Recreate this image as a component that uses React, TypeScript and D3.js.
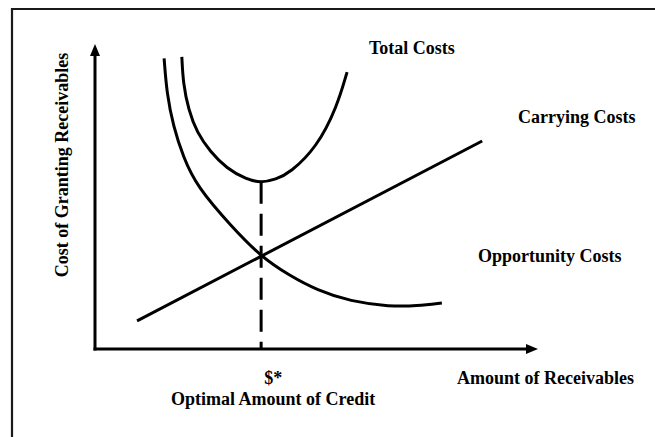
import React, { useEffect, useRef } from 'react';
import * as d3 from 'd3';

// --- Data (units 0..100 on both axes) ---
const totalCostX = [19.6, 19.9, 21.1, 23.0, 26.0, 29.7, 34.2, 37.5, 40.8, 44.0, 50.1, 54.6, 56.9];
const totalCostY = [95.8, 87.1, 78.4, 71.0, 64.7, 59.2, 55.6, 54.5, 55.6, 57.7, 66.2, 79.3, 90.8];

const opportunityX = [15.6, 16.2, 17.7, 19.9, 23.0, 30.9, 37.5, 44.0, 50.1, 57.6, 66.6, 72.7, 78.3];
const opportunityY = [95.3, 83.8, 72.9, 63.0, 53.2, 40.0, 30.2, 24.0, 19.3, 15.6, 13.9, 14.1, 15.1];

const carryingX = [9.5, 87.4];
const carryingY = [9.2, 68.2];

const optimalX = 37.5;
const optimalMinY = 54.8;

const xTickLabels = ['$*'];
const seriesLabels = ['Total Costs', 'Carrying Costs', 'Opportunity Costs'];
const xAxisTitle = 'Amount of Receivables';
const yAxisTitle = 'Cost of Granting Receivables';
const optimalTitle = 'Optimal Amount of Credit';

const zip = (xs: number[], ys: number[]) => xs.map((x, i) => [x, ys[i]] as [number, number]);

const App = () => {
  const svgRef = useRef<SVGSVGElement>(null);

  useEffect(() => {
    const width = 655;
    const height = 437;

    const svg = d3.select(svgRef.current);
    svg.selectAll('*').remove();
    svg.attr('width', width).attr('height', height)
      .style('font-family', "'Liberation Serif', 'Times New Roman', serif");

    // scales: origin of the plot at (95, 349)
    const x = d3.scaleLinear().domain([0, 100]).range([95, 538]);
    const y = d3.scaleLinear().domain([0, 100]).range([349, 44]);

    // outer frame (cut at right and bottom)
    svg.append('path')
      .attr('d', `M12,${height + 5}V9H${width + 5}`)
      .attr('fill', 'none')
      .attr('stroke', '#1a1a1a')
      .attr('stroke-width', 2.2);

    // axes with arrow heads
    const axes = svg.append('g').attr('stroke', '#000').attr('stroke-width', 3);
    axes.append('line')
      .attr('x1', x(0)).attr('y1', y(0) + 1.5)
      .attr('x2', x(0)).attr('y2', y(100) + 10);
    axes.append('line')
      .attr('x1', x(0) - 1.5).attr('y1', y(0))
      .attr('x2', x(100) - 10).attr('y2', y(0));

    svg.append('path')
      .attr('d', `M${x(0)},${y(100)}L${x(0) - 5},${y(100) + 12}L${x(0) + 5},${y(100) + 12}Z`)
      .attr('fill', '#000');
    svg.append('path')
      .attr('d', `M${x(100)},${y(0)}L${x(100) - 12},${y(0) - 5}L${x(100) - 12},${y(0) + 5}Z`)
      .attr('fill', '#000');

    // basis spline smooths out the small reading errors in the points
    const line = d3.line<[number, number]>()
      .x(d => x(d[0]))
      .y(d => y(d[1]))
      .curve(d3.curveBasis);

    const curves = svg.append('g')
      .attr('fill', 'none')
      .attr('stroke', '#000')
      .attr('stroke-width', 3);

    curves.append('path').attr('d', line(zip(totalCostX, totalCostY)));
    curves.append('path').attr('d', line(zip(opportunityX, opportunityY)));
    curves.append('path').attr('d', line(zip(carryingX, carryingY)));

    // dashed line at the optimum
    svg.append('line')
      .attr('x1', x(optimalX)).attr('y1', y(optimalMinY))
      .attr('x2', x(optimalX)).attr('y2', y(0))
      .attr('stroke', '#000')
      .attr('stroke-width', 3)
      .attr('stroke-dasharray', '22,10');

    // --- labels ---
    const label = (tx: number, ty: number, text: string, anchor = 'start') =>
      svg.append('text')
        .attr('x', tx).attr('y', ty)
        .attr('text-anchor', anchor)
        .attr('fill', '#000')
        .style('font-size', '18px')
        .style('font-weight', 'bold')
        .text(text);

    label(369, 54, seriesLabels[0]);
    label(518, 123, seriesLabels[1]);
    label(478, 262, seriesLabels[2]);
    label(457, 384, xAxisTitle);
    label(x(optimalX) + 12, 384, xTickLabels[0], 'middle');
    label(x(optimalX) + 12, 405, optimalTitle, 'middle');

    svg.append('text')
      .attr('transform', 'translate(68,165) rotate(-90)')
      .attr('text-anchor', 'middle')
      .attr('fill', '#000')
      .style('font-size', '18px')
      .style('font-weight', 'bold')
      .text(yAxisTitle);
  }, []);

  return (
    <svg ref={svgRef} style={{ position: 'absolute', left: 0, top: 0, background: '#fff' }}></svg>
  );
};

export default App;
